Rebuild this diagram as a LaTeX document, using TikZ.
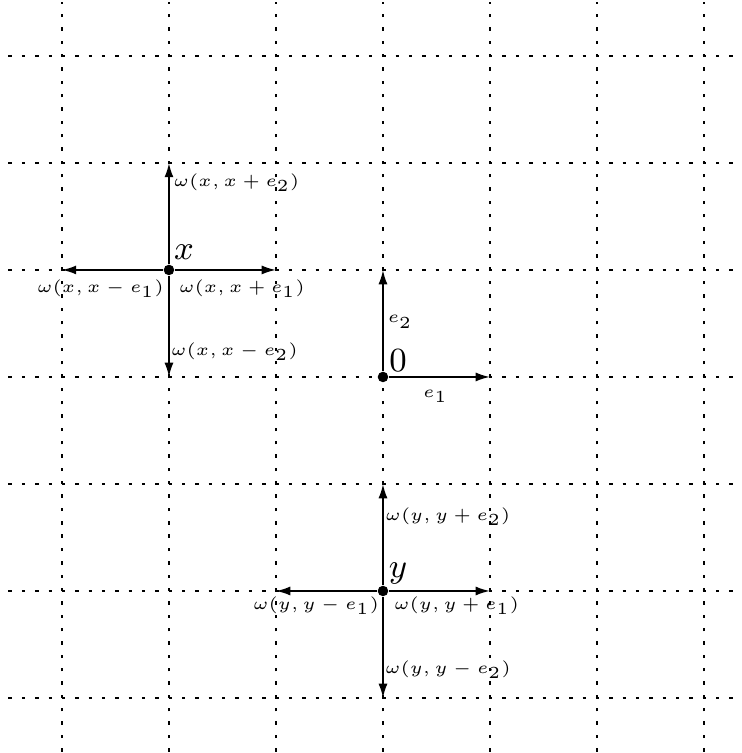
\documentclass[tikz,border=0pt]{standalone}
\usetikzlibrary{arrows.meta}
\begin{document}
\begin{tikzpicture}[
  gridline/.style={line width=0.38pt, dash pattern=on 0.9pt off 2.65pt},
  vec/.style={line width=0.5pt, -{Latex[length=3.8pt,width=2.4pt]}},
  dot/.style={circle, fill=black, inner sep=0pt, minimum size=2.8pt},
  lab/.style={font=\tiny, inner sep=0pt, scale=0.9, transform shape},
  big/.style={font=\small, inner sep=0pt}
]
\useasboundingbox (-3.579,-3.514) rectangle (3.355,3.523);
% lattice
\foreach \i in {-3,...,3} {
  \draw[gridline] (\i,-3.5) -- (\i,3.5);
  \draw[gridline] (-3.5,\i) -- (3.5,\i);
}
% points
\node[dot] (X) at (-2,1) {};
\node[dot] (O) at (0,0) {};
\node[dot] (Y) at (0,-2) {};
% arrow ends
\coordinate (Xr) at (-1,1);
\coordinate (Xl) at (-3,1);
\coordinate (Xu) at (-2,2);
\coordinate (Xd) at (-2,0);
\coordinate (E1) at (1,0);
\coordinate (E2) at (0,1);
\coordinate (Yr) at (1,-2);
\coordinate (Yl) at (-1,-2);
\coordinate (Yu) at (0,-1);
\coordinate (Yd) at (0,-3);
% arrows
\draw[vec] (X) -- (Xr);
\draw[vec] (X) -- (Xl);
\draw[vec] (X) -- (Xu);
\draw[vec] (X) -- (Xd);
\draw[vec] (O) -- (E1);
\draw[vec] (O) -- (E2);
\draw[vec] (Y) -- (Yr);
\draw[vec] (Y) -- (Yl);
\draw[vec] (Y) -- (Yu);
\draw[vec] (Y) -- (Yd);
% point labels
\node[big] (xl) at (-1.860,1.168) {$x$};
\node[big] (ol) at (0.140,0.154) {$0$};
\node[big] (yl) at (0.140,-1.840) {$y$};
% vector labels
\node[lab] (e1l) at (0.491,-0.180) {$e_1$};
\node[lab] (e2l) at (0.160,0.515) {$e_2$};
\node[lab] (wxu) at (-1.369,1.813) {$\omega(x, x+e_2)$};
\node[lab] (wxl) at (-2.640,0.822) {$\omega(x, x-e_1)$};
\node[lab] (wxr) at (-1.318,0.822) {$\omega(x, x+e_1)$};
\node[lab] (wxd) at (-1.388,0.234) {$\omega(x, x-e_2)$};
\node[lab] (wyu) at (0.607,-1.308) {$\omega(y, y+e_2)$};
\node[lab] (wyl) at (-0.626,-2.136) {$\omega(y, y-e_1)$};
\node[lab] (wyr) at (0.687,-2.136) {$\omega(y, y+e_1)$};
\node[lab] (wyd) at (0.607,-2.738) {$\omega(y, y-e_2)$};
\end{tikzpicture}
\end{document}
